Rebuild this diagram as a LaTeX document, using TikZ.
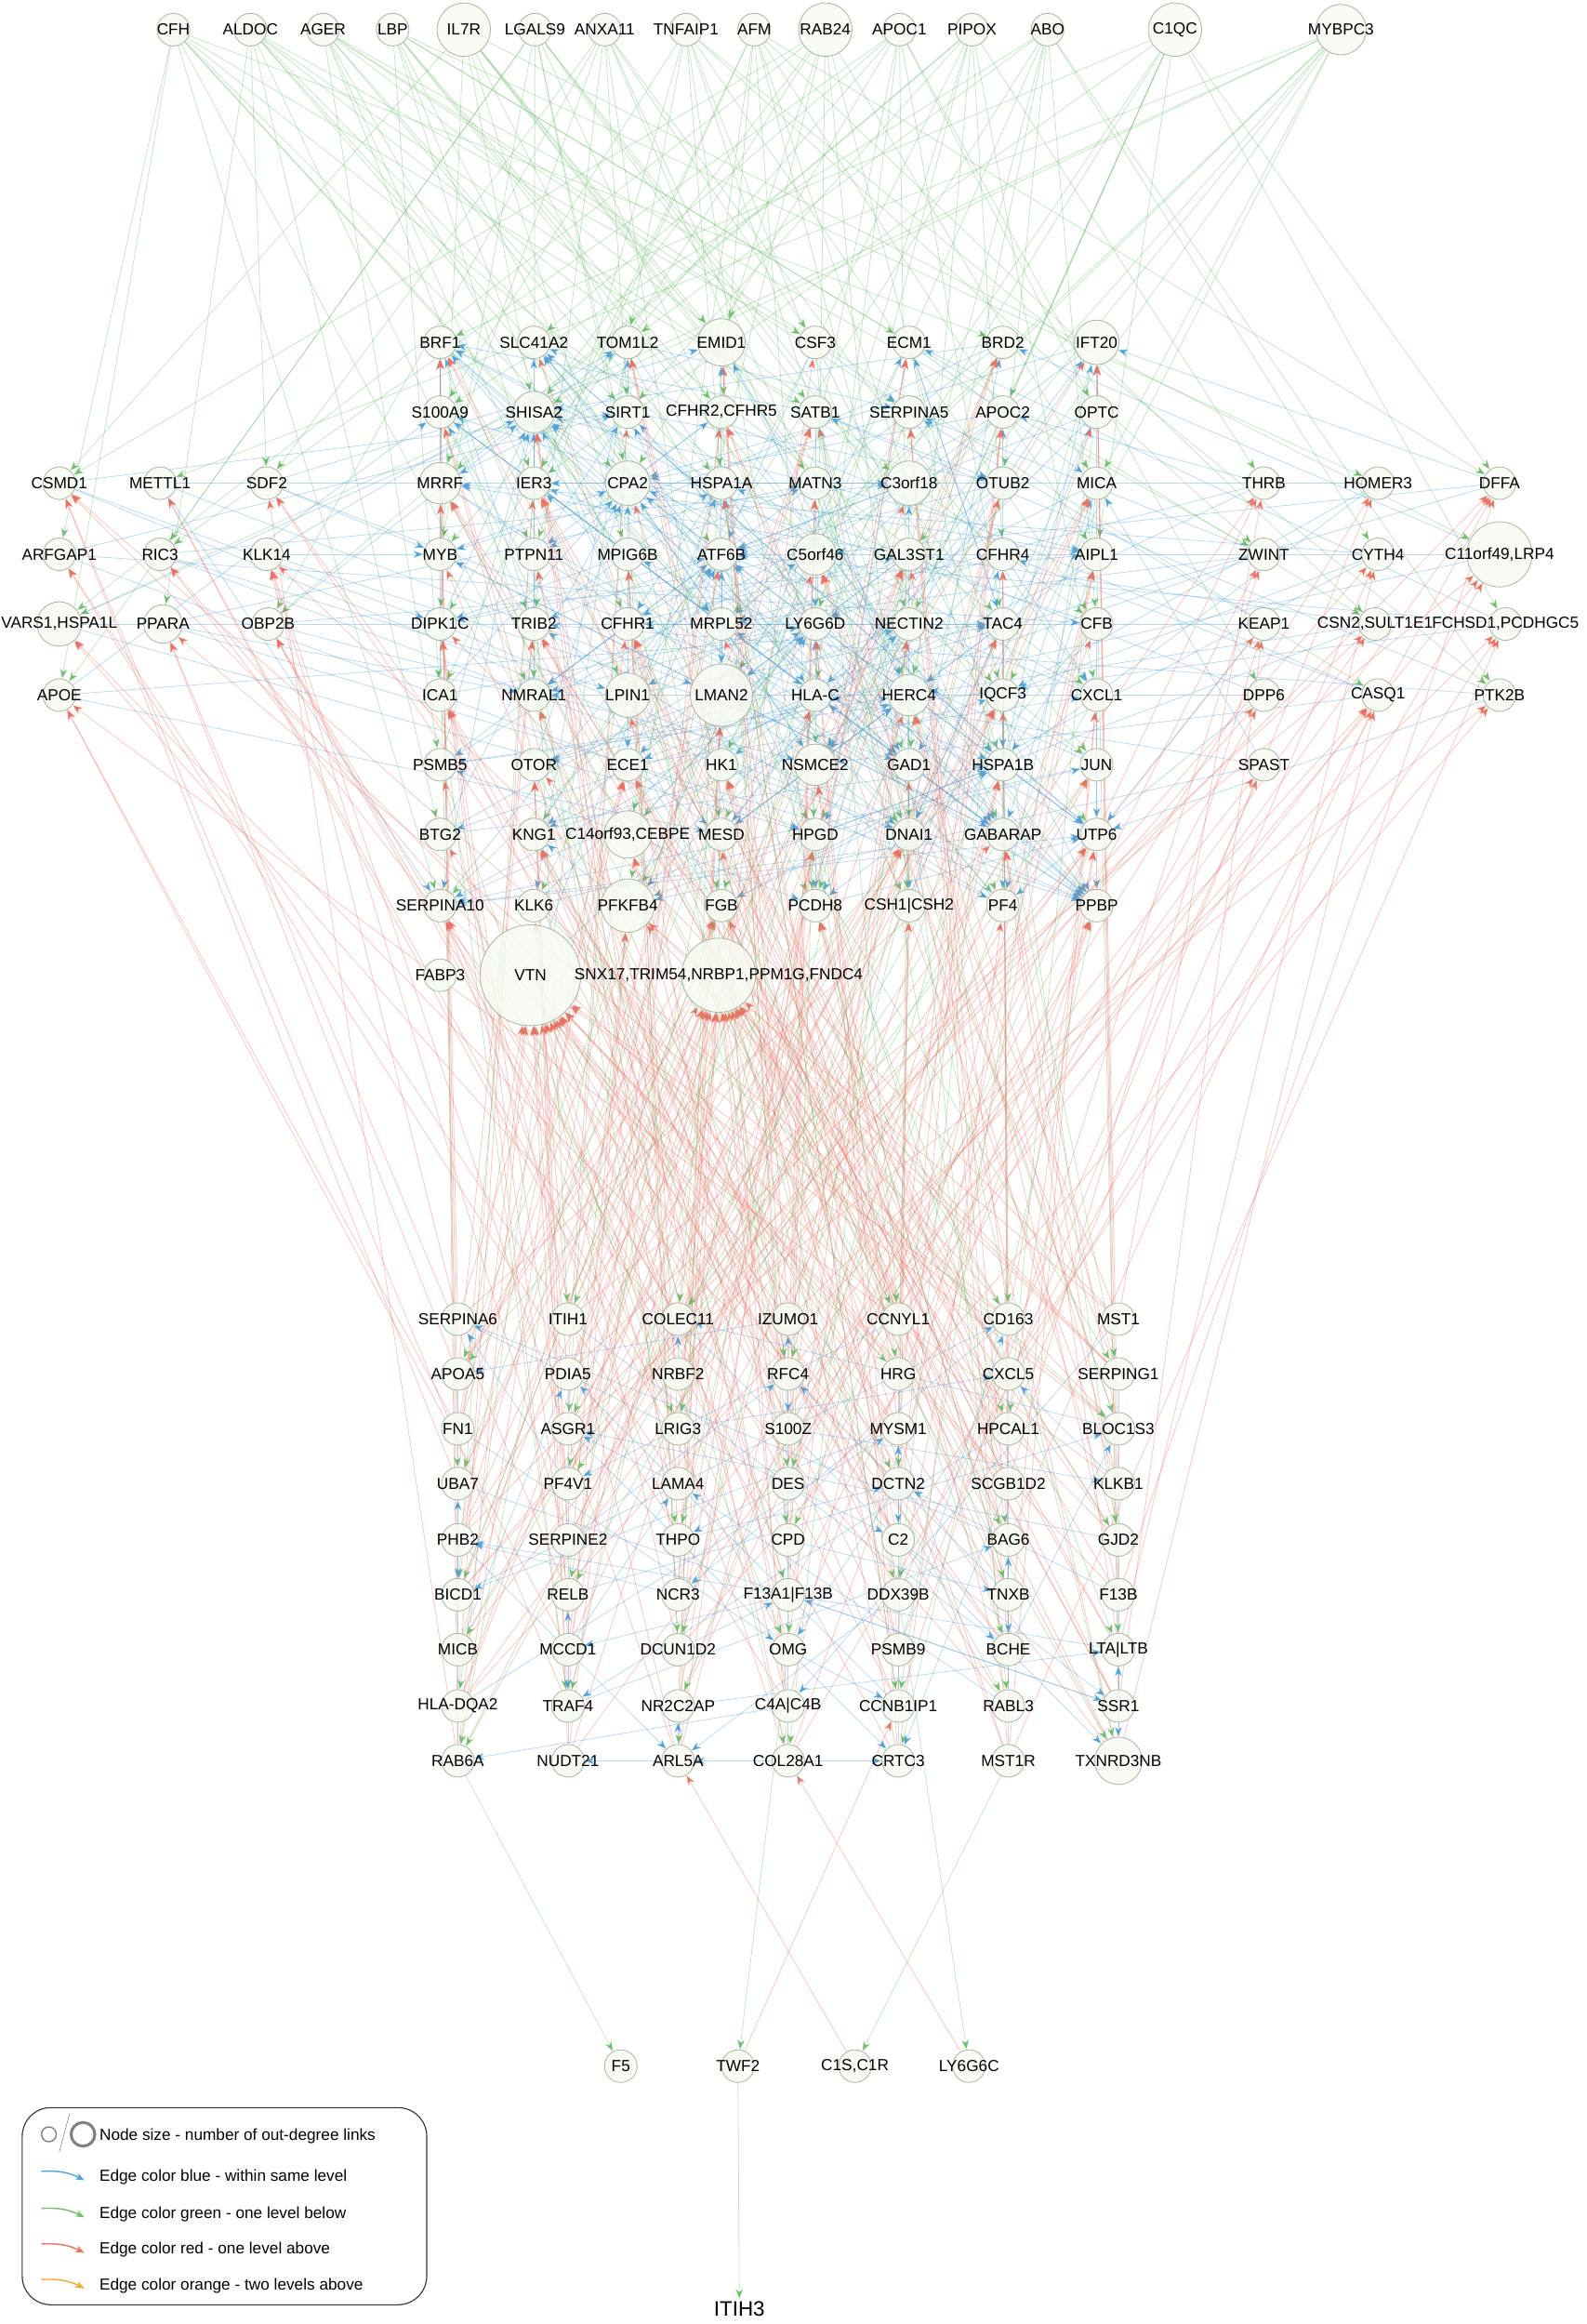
\documentclass[tikz,border=0pt]{standalone}
\usepackage{fontspec}
\setmainfont{Liberation Sans}
\usetikzlibrary{arrows.meta}
\pgfdeclarelayer{bg}
\pgfdeclarelayer{paper}
\pgfsetlayers{paper,bg,main}
\definecolor{eb}{HTML}{4FA3DC}
\definecolor{eg}{HTML}{6CC06A}
\definecolor{er}{HTML}{F07060}
\definecolor{eo}{HTML}{F5A623}
\definecolor{nfill}{HTML}{F6FBF3}
\definecolor{nline}{HTML}{A8B8A4}
\tikzset{
 nd/.style={circle,draw=nline,fill=nfill,fill opacity=0.85,line width=0.6pt,inner sep=0pt},
 lbl/.style={font=\fontsize{12.3}{14}\selectfont,inner sep=0pt},
 ed/.style={line width=0.55pt,-{Stealth[length=8pt,width=6pt]},draw opacity=0.4},
 ge/.style={ed,draw=eg},
 be/.style={ed,draw=eb},
 re/.style={ed,draw=er},
}
\newcommand\grow[3]{\foreach \lab/\rad [count=\c] in {#3} {\pgfmathsetmacro\xx{297+63.3*(\c-1)}\node[nd,minimum size={2*\rad*0.04cm}] (g-#1-\c) at (\xx,#2) {}; \node[lbl] at (g-#1-\c) {\lab};}}
\newcommand\brow[3]{\foreach \lab/\rad [count=\c] in {#3} {\pgfmathsetmacro\xx{309+74.3*(\c-1)}\node[nd,minimum size={2*\rad*0.04cm}] (b-#1-\c) at (\xx,#2) {}; \node[lbl] at (b-#1-\c) {\lab};}}
\begin{document}
\begin{tikzpicture}[x=0.04cm,y=-0.04cm]
\useasboundingbox (0,0) rectangle (1071,1568);
\begin{pgfonlayer}{paper}\fill[white] (0,0) rectangle (1071,1568);\end{pgfonlayer}
% top
\foreach \lab/\xx/\rad [count=\i] in {CFH/117/11,ALDOC/169/11,AGER/218/11,LBP/265/11,IL7R/313/18,LGALS9/361/11,ANXA11/408/11,TNFAIP1/463/11,AFM/509/11,RAB24/557/18,APOC1/607/11,PIPOX/656/11,ABO/707/11,C1QC/793/18,MYBPC3/905/17}
 {\node[nd,minimum size={2*\rad*0.04cm}] (t\i) at (\xx,20) {}; \node[lbl] at (t\i) {\lab};}
% grid
\grow{1}{231}{BRF1/11,SLC41A2/11,TOM1L2/11,EMID1/16,CSF3/11,ECM1/11,BRD2/11,IFT20/15}
\grow{2}{278}{S100A9/11,SHISA2/14,SIRT1/11,{CFHR2,CFHR5}/11,SATB1/11,SERPINA5/11,APOC2/11,OPTC/11}
\grow{3}{326}{MRRF/14,IER3/11,CPA2/15,HSPA1A/11,MATN3/11,C3orf18/15,OTUB2/11,MICA/11}
\grow{4}{374}{MYB/11,PTPN11/11,MPIG6B/11,ATF6B/11,C5orf46/14,GAL3ST1/11,CFHR4/11,AIPL1/11}
\grow{5}{421}{DIPK1C/11,TRIB2/11,CFHR1/11,MRPL52/11,LY6G6D/11,NECTIN2/11,TAC4/11,CFB/11}
\grow{6}{469}{ICA1/11,NMRAL1/11,LPIN1/15,LMAN2/21,HLA-C/11,HERC4/14,IQCF3/11,CXCL1/11}
\grow{7}{516}{PSMB5/11,OTOR/11,ECE1/11,HK1/11,NSMCE2/14,GAD1/11,HSPA1B/11,JUN/11}
\grow{8}{563}{BTG2/11,KNG1/11,{C14orf93,CEBPE}/16,MESD/11,HPGD/11,DNAI1/11,GABARAP/11,UTP6/11}
\grow{9}{611}{SERPINA10/11,KLK6/11,PFKFB4/18,FGB/11,PCDH8/11,CSH1|CSH2/11,PF4/11,PPBP/11}
% sides
\foreach \lab/\xx/\yy/\rad [count=\i] in {CSMD1/40/326/11,METTL1/108/326/11,SDF2/180/326/11,THRB/853/326/11,HOMER3/930/326/11,DFFA/1012/326/11,ARFGAP1/40/374/11,RIC3/108/374/11,KLK14/180/374/11,ZWINT/853/374/11,CYTH4/930/374/11,{C11orf49,LRP4}/1012/374/22,{VARS1,HSPA1L}/40/421/15,PPARA/110/421/13,OBP2B/181/421/11,KEAP1/853/421/11,{CSN2,SULT1E1}/928/421/11,{FCHSD1,PCDHGC5}/1016/421/11,APOE/40/469/11,DPP6/853/469/11,CASQ1/930/469/11,PTK2B/1012/469/11,SPAST/853/516/11,FABP3/297/658/11}
 {\node[nd,minimum size={2*\rad*0.04cm}] (s\i) at (\xx,\yy) {}; \node[lbl] at (s\i) {\lab};}
\node[nd,minimum size={68*0.04cm}] (vtn) at (358,658) {}; \node[lbl] at (vtn) {VTN};
\node[nd,minimum size={50*0.04cm}] (snx) at (485,658) {}; \node[lbl] at (snx) {SNX17,TRIM54,NRBP1,PPM1G,FNDC4};
% bottom grid
\brow{1}{890}{SERPINA6/11,ITIH1/11,COLEC11/11,IZUMO1/11,CCNYL1/11,CD163/11,MST1/11}
\brow{2}{927}{APOA5/11,PDIA5/11,NRBF2/11,RFC4/11,HRG/11,CXCL5/11,SERPING1/11}
\brow{3}{964}{FN1/11,ASGR1/11,LRIG3/11,S100Z/11,MYSM1/11,HPCAL1/11,BLOC1S3/11}
\brow{4}{1001}{UBA7/11,PF4V1/11,LAMA4/11,DES/11,DCTN2/11,SCGB1D2/11,KLKB1/11}
\brow{5}{1039}{PHB2/11,SERPINE2/11,THPO/11,CPD/11,C2/11,BAG6/11,GJD2/11}
\brow{6}{1076}{BICD1/11,RELB/11,NCR3/11,F13A1|F13B/11,DDX39B/11,TNXB/11,F13B/11}
\brow{7}{1113}{MICB/11,MCCD1/11,DCUN1D2/11,OMG/11,PSMB9/11,BCHE/11,LTA|LTB/11}
\brow{8}{1151}{HLA-DQA2/11,TRAF4/11,NR2C2AP/11,C4A|C4B/11,CCNB1IP1/11,RABL3/11,SSR1/11}
\brow{9}{1188}{RAB6A/11,NUDT21/11,ARL5A/11,COL28A1/11,CRTC3/11,MST1R/11,TXNRD3NB/16}
\foreach \lab/\xx [count=\i] in {F5/419,TWF2/498,{C1S,C1R}/577,LY6G6C/654}
 {\node[nd,minimum size={22*0.04cm}] (l\i) at (\xx,1394) {}; \node[lbl] at (l\i) {\lab};}
\node[font=\fontsize{16}{18}\selectfont,inner sep=2pt] (itih3) at (499,1558) {ITIH3};
% edges
\begin{pgfonlayer}{bg}
\foreach \i in {1,...,15}{\foreach \k in {1,...,8}{
 \pgfmathtruncatemacro\rr{mod(\i*3+\k*5,9)+1}\pgfmathtruncatemacro\cc{mod(\i*5+\k*3,8)+1}
 \draw[ge] (t\i) -- (g-\rr-\cc);}}
\foreach \i in {1,...,15}{\foreach \k in {1,2}{
 \pgfmathtruncatemacro\ss{mod(\i*7+\k*11,23)+1}\draw[ge] (t\i) -- (s\ss);}}
\foreach \r in {1,...,9}{\foreach \c in {1,...,8}{\foreach \k in {1,2,3}{
 \pgfmathtruncatemacro\rr{mod(\r+\k*2+\c,9)+1}\pgfmathtruncatemacro\cc{mod(\c*\k+\r+\k,8)+1}
 \ifnum\rr=\r\else\draw[be] (g-\r-\c) -- (g-\rr-\cc);\fi}}}
\foreach \i in {1,...,23}{\foreach \k in {1,2,3}{
 \pgfmathtruncatemacro\rr{mod(\i+\k*3,9)+1}\pgfmathtruncatemacro\cc{mod(\i*3+\k*5,8)+1}
 \draw[be] (s\i) -- (g-\rr-\cc);}}
\foreach \r in {1,...,9}{\foreach \c in {1,...,7}{\foreach \k in {1,2,3}{
 \pgfmathtruncatemacro\rr{mod(\r*2+\c+\k*4,9)+1}\pgfmathtruncatemacro\cc{mod(\c*3+\r+\k*2,8)+1}
 \draw[re] (b-\r-\c) -- (g-\rr-\cc);}}}
\foreach \r in {1,...,9}{\foreach \c in {1,...,7}{
 \pgfmathtruncatemacro\ss{mod(\r*5+\c*3,23)+1}\draw[re] (b-\r-\c) -- (s\ss);
 \pgfmathtruncatemacro\q{mod(\r+\c,3)}\ifnum\q=0 \draw[re] (b-\r-\c) -- (snx);\fi
 \ifnum\q=1 \draw[re] (b-\r-\c) -- (vtn);\fi}}
\foreach \r in {1,...,9}{\foreach \c in {1,...,8}{
 \pgfmathtruncatemacro\rr{mod(\r*4+\c,9)+1}\pgfmathtruncatemacro\cc{mod(\c*2+\r,7)+1}
 \draw[ge] (g-\r-\c) -- (b-\rr-\cc);}}
\foreach \r in {1,...,9}{\foreach \c in {1,...,7}{
 \pgfmathtruncatemacro\rr{mod(\r+\c*2+1,9)+1}\pgfmathtruncatemacro\cc{mod(\c+\r*3,7)+1}
 \ifnum\rr=\r\else\draw[be] (b-\r-\c) -- (b-\rr-\cc);\fi}}
\draw[be] (b-9-4) -- (b-9-3); \draw[be] (b-9-4) -- (b-9-5); \draw[be] (b-9-3) -- (b-9-2);
\draw[ge] (b-9-1) -- (l1); \draw[ge] (b-7-4) -- (l2); \draw[re] (l2) -- (b-8-5);
\draw[re] (l3) -- (b-9-3); \draw[ge] (b-9-6) -- (l3); \draw[re] (l4) -- (b-9-4); \draw[ge] (b-6-5) -- (l4);
\draw[ge] (l2) -- (itih3);
\draw[be] (vtn) -- (g-3-4); \draw[be] (snx) -- (g-1-4); \draw[be] (vtn) -- (g-5-6);
\end{pgfonlayer}
% legend
\draw[rounded corners=22pt,line width=0.8pt,draw=black!80] (15,1422) rectangle (288,1555);
\node[circle,draw=gray,line width=1pt,minimum size={10*0.04cm},inner sep=0] (lc1) at (33,1440) {};
\node[circle,draw=gray,line width=2.2pt,minimum size={16*0.04cm},inner sep=0] (lc2) at (56,1440) {};
\draw[gray] (40,1452) -- (47,1426);
\node[lbl,anchor=west] (lt0) at (67,1441) {Node size - number of out-degree links};
\foreach \col/\txt/\yy in {eb/{Edge color blue - within same level}/1469,eg/{Edge color green - one level below}/1494,er/{Edge color red - one level above}/1518,eo/{Edge color orange - two levels above}/1542}{
 \coordinate (la) at (28,\yy-4); \coordinate (lb) at (57,\yy+2);
 \draw[line width=1pt,draw=\col,-{Stealth[length=7pt]}] (la) to[bend left=15] (lb);
 \node[lbl,anchor=west] at (67,\yy) {\txt};}
\end{tikzpicture}
\end{document}
